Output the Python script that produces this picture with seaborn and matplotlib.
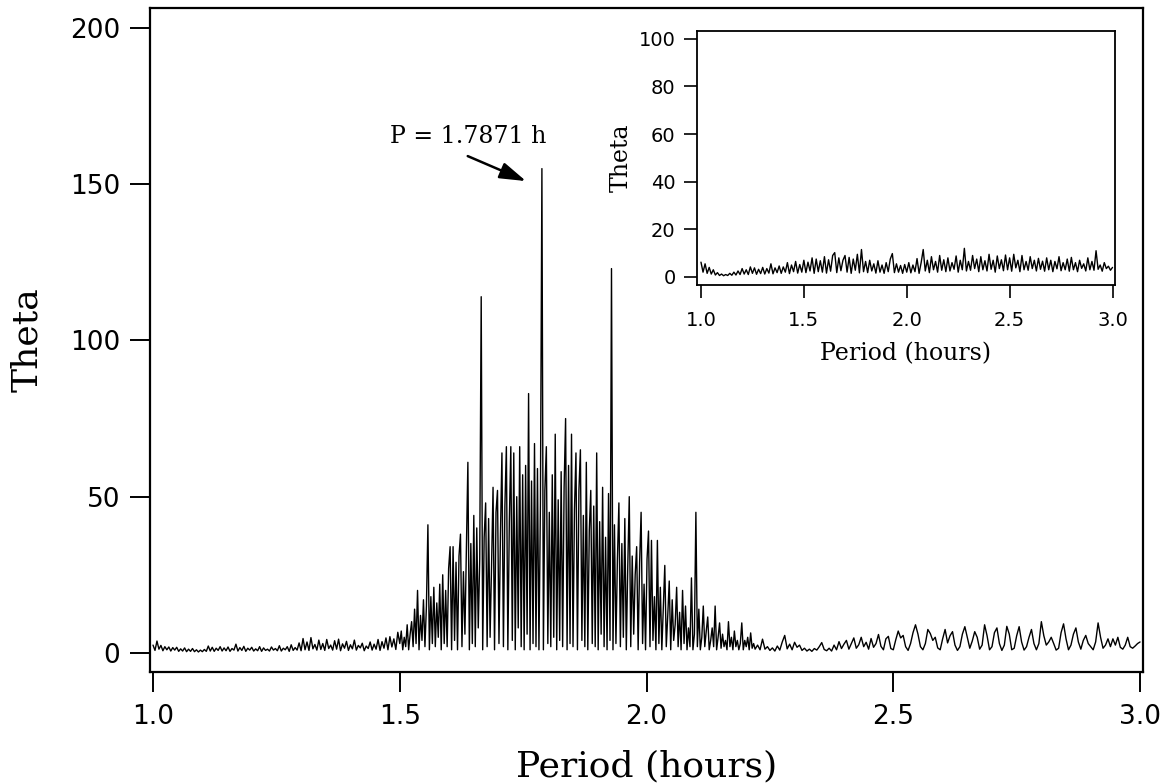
import numpy as np
import pandas as pd
import seaborn as sns
import matplotlib.pyplot as plt

# Theta values, in three period ranges
# low range: 1.000 .. 1.496 h, one value every 0.004 h
theta_low = [
    2.5, 0.8, 3.8, 1.2, 2.4, 0.7, 2.0, 1.0, 1.9, 0.6,
    1.7, 0.9, 1.8, 0.5, 1.3, 0.6, 1.6, 0.4, 1.2, 0.5,
    1.4, 0.4, 1.0, 0.3, 0.9, 0.4, 1.1, 0.5, 2.2, 0.6,
    1.8, 0.5, 1.5, 0.8, 2.0, 0.6, 1.6, 0.7, 1.9, 0.5,
    1.4, 0.9, 2.8, 0.6, 1.7, 0.8, 2.1, 0.5, 1.5, 0.9,
    1.8, 0.6, 1.3, 0.7, 2.0, 0.5, 1.6, 0.8, 1.2, 0.6,
    1.9, 0.9, 1.4, 0.7, 2.3, 0.6, 1.5, 1.0, 2.0, 0.5,
    2.6, 0.8, 1.7, 0.9, 3.2, 0.7, 4.6, 1.0, 3.5, 0.8,
    4.9, 1.3, 2.7, 0.9, 4.1, 1.1, 3.0, 0.8, 4.3, 1.4,
    2.5, 0.9, 3.9, 1.2, 4.4, 0.7, 2.9, 1.5, 3.7, 0.8,
    2.6, 1.3, 4.1, 0.9, 2.4, 1.6, 3.1, 0.7, 2.2, 1.4,
    3.5, 0.9, 2.8, 1.2, 4.3, 0.8, 3.6, 1.5, 4.8, 1.0,
    5.2, 1.9, 4.5, 1.1, 6.6,
]

# middle range: 1.500 .. 2.220 h, one value every 0.003 h
theta_mid = [
    3, 7, 1, 5, 2, 9, 1, 6, 10, 2,
    14, 3, 20, 1, 12, 4, 17, 2, 15, 41,
    1, 18, 3, 21, 2, 16, 5, 22, 1, 25,
    3, 20, 2, 27, 34, 1, 34, 4, 29, 1,
    31, 38, 2, 26, 6, 33, 61, 1, 35, 3,
    44, 2, 40, 8, 30, 114, 1, 37, 48, 2,
    43, 5, 28, 53, 1, 45, 52, 3, 38, 64,
    2, 47, 66, 1, 42, 66, 4, 64, 1, 50,
    8, 66, 2, 57, 1, 60, 6, 83, 1, 55,
    3, 67, 2, 59, 1, 48, 155, 1, 52, 66,
    3, 45, 2, 57, 5, 70, 1, 49, 4, 58,
    2, 53, 75, 1, 60, 3, 70, 2, 46, 64,
    1, 52, 65, 4, 44, 2, 61, 1, 39, 52,
    3, 47, 2, 64, 1, 42, 6, 53, 2, 37,
    1, 51, 4, 123, 1, 41, 3, 30, 48, 2,
    35, 5, 43, 1, 28, 50, 2, 31, 6, 25,
    34, 1, 29, 45, 3, 22, 1, 30, 39, 2,
    36, 4, 18, 1, 36, 3, 21, 1, 15, 28,
    2, 12, 23, 1, 17, 4, 9, 21, 2, 13,
    1, 20, 3, 15, 1, 8, 2, 24, 1, 6,
    45, 2, 14, 1, 5, 15, 2, 7, 11.5, 1,
    4, 8, 2, 15, 1, 5, 9.6, 1.5, 6, 2,
    4, 1, 10, 2, 5, 1, 7, 2, 4, 1,
    3, 9.6, 1, 4, 2, 5, 1, 6.4, 1.5, 3,
    1.2,
]

# high range: 2.225 .. 3.000 h, one value every 0.005 h
theta_high = [
    2.5, 1.0, 4.4, 1.2, 2.0, 0.8, 1.6, 0.6, 2.2, 0.9,
    3.5, 5.6, 1.3, 2.8, 1.0, 3.4, 1.8, 2.5, 0.8, 1.5,
    0.6, 1.2, 0.5, 1.4, 0.9, 2.0, 3.3, 1.1, 0.7, 1.5,
    0.6, 2.5, 1.0, 3.6, 1.4, 2.8, 4.0, 1.2, 3.0, 4.8,
    1.5, 2.6, 5.0, 2.0, 3.4, 1.2, 4.6, 1.8, 3.0, 5.9,
    2.1, 1.0, 4.5, 5.3, 1.4, 1.0, 4.2, 7.0, 4.8, 5.6,
    2.0, 0.8, 3.0, 6.5, 9.0, 6.0, 2.0, 1.0, 3.0, 7.5,
    6.2, 4.0, 5.0, 1.6, 1.0, 4.5, 7.5, 3.2, 5.5, 6.8,
    2.5, 0.8, 2.0, 6.0, 8.4, 5.0, 1.5, 3.8, 6.8, 5.0,
    1.2, 2.5, 9.0, 5.5, 1.0, 2.0, 6.5, 8.0, 3.0, 0.8,
    2.5, 8.5, 6.0, 1.0, 1.5, 5.5, 8.4, 3.5, 0.9, 2.0,
    5.0, 7.5, 3.0, 1.0, 3.0, 10.0, 5.5, 2.5, 3.5, 5.0,
    3.0, 0.9, 1.5, 6.5, 9.3, 4.5, 1.0, 2.5, 6.0, 8.0,
    3.5, 1.2, 4.0, 5.6, 3.0, 2.0, 1.0, 3.5, 9.6, 5.0,
    1.5, 2.5, 4.5, 2.0, 4.5, 2.5, 5.0, 1.8, 1.2, 2.5,
    5.0, 2.0, 1.5, 2.2, 3.0, 3.5,
]

# inset periodogram: 1.00 .. 3.00 h, one value every 0.01 h
theta_inset = [
    6.2, 2.0, 5.5, 1.5, 4.0, 1.2, 3.0, 0.8, 1.8, 0.6,
    1.2, 0.5, 1.0, 0.6, 1.5, 0.7, 2.0, 0.8, 2.5, 1.0,
    3.5, 1.2, 3.0, 1.0, 4.2, 1.5, 3.8, 1.1, 3.2, 1.4,
    4.0, 1.2, 3.5, 1.6, 5.5, 1.3, 3.8, 1.8, 4.6, 1.5,
    4.2, 2.0, 6.0, 1.4, 5.0, 2.2, 6.5, 1.6, 5.2, 2.0,
    7.0, 1.8, 6.2, 2.5, 8.0, 1.5, 7.5, 2.2, 6.8, 2.0,
    8.5, 1.6, 7.2, 2.4, 9.0, 10.2, 1.8, 8.0, 2.6, 7.0,
    9.0, 2.0, 8.2, 1.5, 7.5, 2.8, 9.5, 1.7, 11.5, 2.2,
    6.5, 1.8, 7.0, 2.5, 5.5, 1.6, 6.8, 2.0, 5.0, 1.5,
    6.0, 2.2, 7.5, 9.8, 1.8, 5.5, 2.0, 4.8, 1.5, 5.2,
    2.0, 6.0, 1.7, 5.0, 2.2, 7.7, 1.5, 6.0, 11.5, 2.5,
    7.0, 1.8, 8.5, 3.0, 6.5, 2.0, 9.0, 2.8, 7.2, 2.2,
    8.0, 2.5, 6.0, 3.2, 8.8, 2.0, 7.0, 3.0, 12.0, 2.5,
    6.5, 2.8, 9.0, 3.5, 7.5, 2.2, 8.5, 3.0, 6.8, 2.5,
    9.5, 3.2, 7.0, 2.0, 8.8, 3.5, 7.2, 2.6, 9.2, 3.0,
    8.0, 2.4, 9.5, 3.8, 7.0, 2.2, 9.0, 3.0, 6.5, 2.8,
    8.5, 3.5, 7.0, 2.5, 7.8, 3.2, 6.6, 2.4, 8.0, 3.0,
    7.0, 2.2, 6.5, 3.4, 8.5, 2.6, 6.0, 3.0, 7.5, 2.4,
    8.2, 3.0, 6.0, 2.2, 7.0, 3.6, 5.5, 2.5, 8.0, 3.0,
    6.5, 2.8, 11.0, 3.2, 5.0, 2.4, 6.0, 3.5, 4.5, 2.8,
    4.0,
]

xtick_vals = [1.0, 1.5, 2.0, 2.5, 3.0]
xtick_labels = ['1.0', '1.5', '2.0', '2.5', '3.0']
ytick_main = [0, 50, 100, 150, 200]
ytick_inset = [0, 20, 40, 60, 80, 100]
best_period = 1.7871

# period grids of the three sampled ranges
period_low = 1.0 + 0.004 * np.arange(len(theta_low))
period_mid = 1.5 + 0.003 * np.arange(len(theta_mid))
period_high = 2.225 + 0.005 * np.arange(len(theta_high))
period_inset = 1.0 + 0.01 * np.arange(len(theta_inset))

main_df = pd.DataFrame({
    'Period': np.concatenate([period_low, period_mid, period_high]),
    'Theta': np.concatenate([theta_low, theta_mid, theta_high]),
})
inset_df = pd.DataFrame({'Period': period_inset, 'Theta': theta_inset})

sns.set_style('ticks')
plt.rcParams['font.family'] = ['DejaVu Sans']
for key in ['text.color', 'axes.labelcolor', 'xtick.color', 'ytick.color']:
    plt.rcParams[key] = 'black'
serif = 'DejaVu Serif'

fig = plt.figure(figsize=(11.71, 7.83), dpi=100)

# main panel
ax = fig.add_axes([0.1281, 0.1418, 0.848, 0.848])
sns.lineplot(data=main_df, x='Period', y='Theta', color='black', lw=1.0,
             estimator=None, ax=ax)
ax.set_xlim(0.9939, 3.006)
ax.set_ylim(-6.1, 206.4)
ax.set_xticks(xtick_vals)
ax.set_xticklabels(xtick_labels)
ax.set_yticks(ytick_main)
ax.tick_params(axis='both', direction='out', length=14.4, width=1.4,
               labelsize=19, color='black', labelcolor='black')
ax.tick_params(axis='x', pad=9)
ax.tick_params(axis='y', pad=7)
for sp in ax.spines.values():
    sp.set_visible(True)
    sp.set_linewidth(1.6)
    sp.set_color('black')
ax.set_xlabel('Period (hours)', fontsize=26, family=serif, labelpad=14)
ax.set_ylabel('Theta', fontsize=26, family=serif, labelpad=19)

ax.annotate('', xy=(1.7558, 151), xytext=(1.6377, 159),
            arrowprops=dict(arrowstyle='-|>,head_length=0.8,head_width=0.25',
                            color='black', lw=1.8, mutation_scale=20,
                            shrinkA=0, shrinkB=0))
ax.text(1.638, 165.4, f'P = {best_period:.4f} h', ha='center', va='center',
        fontsize=17, family=serif)

# inset panel
ax2 = fig.add_axes([0.5952, 0.636, 0.357, 0.3248])
sns.lineplot(data=inset_df, x='Period', y='Theta', color='black', lw=1.0,
             estimator=None, ax=ax2)
ax2.set_xlim(0.9806, 3.0122)
ax2.set_ylim(-3.4, 103.4)
ax2.set_xticks(xtick_vals)
ax2.set_xticklabels(xtick_labels)
ax2.set_yticks(ytick_inset)
ax2.tick_params(axis='both', direction='out', length=9.4, width=1.2,
                labelsize=14, color='black', labelcolor='black')
ax2.tick_params(axis='x', pad=9)
ax2.tick_params(axis='y', pad=6)
for sp in ax2.spines.values():
    sp.set_visible(True)
    sp.set_linewidth(1.3)
    sp.set_color('black')
ax2.set_xlabel('Period (hours)', fontsize=17, family=serif, labelpad=9)
ax2.set_ylabel('Theta', fontsize=17, family=serif, labelpad=4)

fig.savefig('out.png', dpi=100)
